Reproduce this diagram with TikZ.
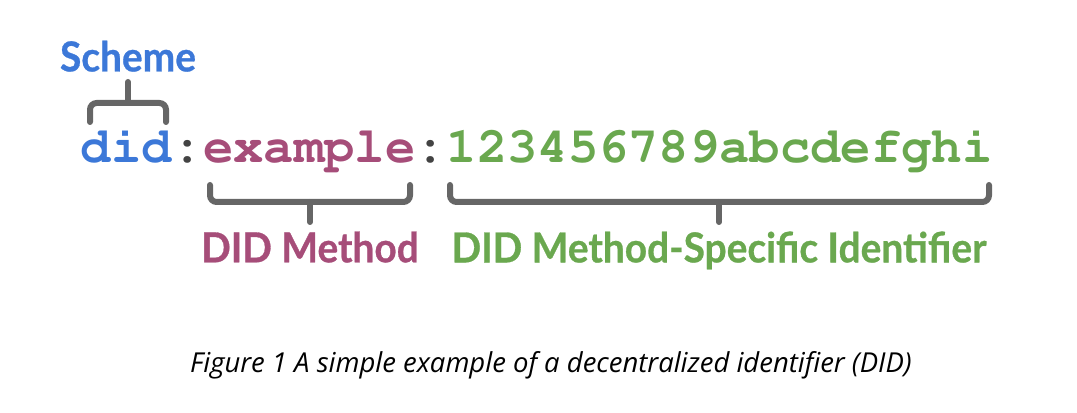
\documentclass[tikz,border=0pt]{standalone}
\usepackage[T1]{fontenc}
\usepackage{fontspec}
\usetikzlibrary{positioning,calc}
\newcommand\codefont{\fontencoding{T1}\fontfamily{pcr}\fontseries{b}\selectfont}
\newfontfamily\tagfont{Lato}[FakeStretch=0.94, BoldFeatures={FakeBold=0.7}]
\newfontfamily\capfont{Open Sans}
\definecolor{schemeblue}{HTML}{3C78D8}
\definecolor{methodpink}{HTML}{A64D79}
\definecolor{idgreen}{HTML}{6AA84F}
\definecolor{bracegray}{HTML}{666666}
\definecolor{colongray}{HTML}{434343}

\begin{document}
\begin{tikzpicture}[x=0.75pt, y=-0.75pt,
    code/.style={inner sep=0pt, anchor=base west, font=\fontsize{37.9}{40}\codefont},
    tag/.style={inner sep=0pt, font=\tagfont\bfseries\fontsize{31}{34}\selectfont},
    brace/.style={bracegray, line width=4.5pt, rounded corners=5pt, line cap=round}]
    \useasboundingbox (0,0) rectangle (1077,413);

    % The identifier, split into its three parts
    \node[code, text=schemeblue] (did) at (80.5,163) {did};
    \node[code, text=colongray] (colA) at (did.base east) {:};
    \node[code, text=methodpink] (method) at (colA.base east) {example};
    \node[code, text=colongray] (colB) at (method.base east) {:};
    \node[code, text=idgreen] (msid) at (colB.base east) {123456789abcdefghi};

    % Brace tips
    \coordinate (schemetip) at (128,82);
    \coordinate (methodtip) at (310,222);
    \coordinate (msidtip) at (719,222);

    % Scheme brace (above)
    \draw[brace] (90,122) -- (90,103) -- (166,103) -- (166,122);
    \draw[brace] (128,103) -- (schemetip);
    \node[tag, text=schemeblue, above=7.5pt of schemetip] (scheme) {Scheme};

    % Method braces (below)
    \draw[brace] (210,185) -- (210,202) -- (410,202) -- (410,185);
    \draw[brace] (310,202) -- (methodtip);
    \node[tag, text=methodpink, below=7pt of methodtip] (methodlbl) {DID Method};

    \draw[brace] (450,185) -- (450,202) -- (989,202) -- (989,185);
    \draw[brace] (719,202) -- (msidtip);
    \node[tag, text=idgreen, below=7pt of msidtip] (msidlbl) {DID Method-Specific Identifier};

    % Caption
    \node[anchor=base, inner sep=0pt, font=\capfont\itshape\fontsize{20.6}{24}\selectfont] (caption) at (551,372)
        {Figure 1 A simple example of a decentralized identifier (DID)};
\end{tikzpicture}
\end{document}
